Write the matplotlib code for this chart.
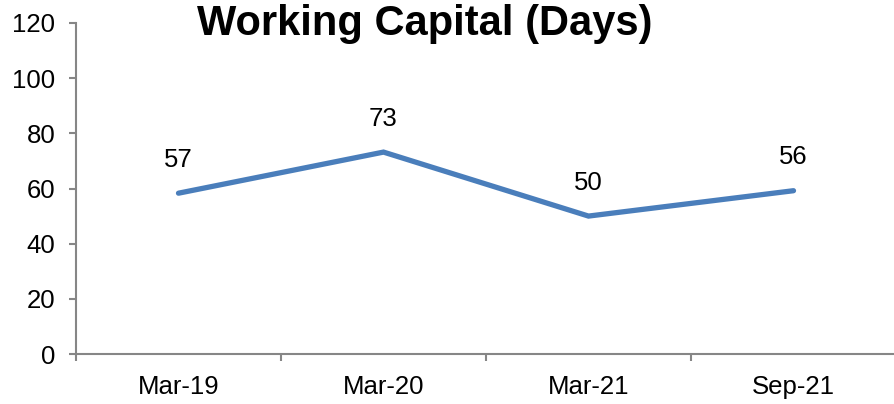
import matplotlib
matplotlib.use('Agg')
import matplotlib.pyplot as plt
import numpy as np

plt.rcParams['font.family'] = ['Liberation Sans', 'DejaVu Sans']

periods = ['Mar-19', 'Mar-20', 'Mar-21', 'Sep-21']
days = [58.3, 73.2, 50.0, 59.2]
labels = ['57', '73', '50', '56']
yticks = [0, 20, 40, 60, 80, 100, 120]

fig = plt.figure(figsize=(8.94, 4.04), dpi=100)
ax = fig.add_axes([76 / 894, 50 / 404, 820 / 894, 331 / 404])

x = np.arange(len(periods))
ax.plot(x, days, color='#4A7EBB', lw=3.8, solid_capstyle='round', solid_joinstyle='miter')

for xi, yi, lab in zip(x, days, labels):
    ax.annotate(lab, (xi, yi), xytext=(0, 24), textcoords='offset points',
                ha='center', va='center', fontsize=18.5)

ax.set_xlim(-0.5, len(periods) - 0.5)
ax.set_ylim(0, 120)
ax.set_yticks(yticks)
ax.set_yticklabels([str(t) for t in yticks], fontsize=18.5)
ax.set_xticks(x)
ax.set_xticklabels(periods, fontsize=18.5)
ax.set_xticks(np.arange(len(periods) + 1) - 0.5, minor=True)
ax.tick_params(axis='x', which='major', length=0, pad=15)
ax.tick_params(axis='x', which='minor', length=5, color='#868686', width=1.5)
ax.tick_params(axis='y', length=5, color='#868686', width=1.5, pad=10)

for s in ['top', 'right']:
    ax.spines[s].set_visible(False)
for s in ['left', 'bottom']:
    ax.spines[s].set_color('#868686')
    ax.spines[s].set_linewidth(1.5)

fig.text(425 / 894, 1 - 35 / 404, 'Working Capital (Days)', ha='center', va='baseline',
         fontsize=30, fontweight='bold')

fig.savefig('out.png', dpi=100, facecolor='white')
